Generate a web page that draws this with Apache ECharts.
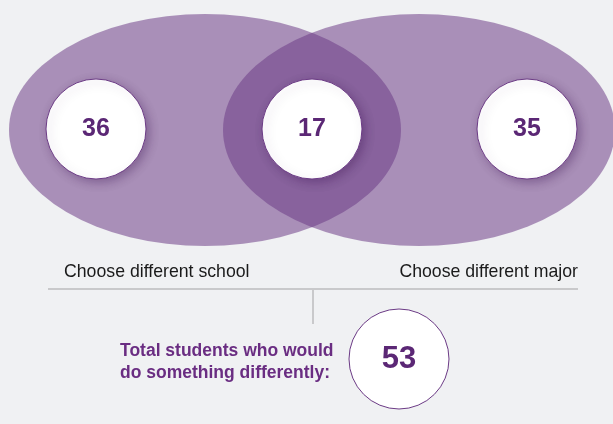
<!DOCTYPE html>
<html lang="en">

<head>
    <title>Students who would do something differently</title>
    <meta charset="utf-8">
    <style>
        html, body {
            margin: 0;
            padding: 0;
            background-color: #f0f1f3;
        }
    </style>
</head>

<body>
    <div id="chart" style="width: 613px; height: 424px"></div>
    <script src="https://cdn.jsdelivr.net/npm/echarts@6/dist/echarts.min.js"></script>
    <script>
        // data
        var setNames = ["Choose different school", "Choose different major"];
        var onlyCounts = [36, 35];
        var bothCount = 17;
        var totalCount = 53;
        var totalLabel = "Total students who would\ndo something differently:";

        // layout (pixel units on hidden axes)
        var W = 613, H = 424;
        var setCenters = [[205, 130], [419, 130]];
        var countSpots = [[96, 129], [312, 129], [527, 129]];
        var totalSpot = [399, 359];
        var purple = "#5b2775";
        var font = "Liberation Sans";

        var chart = echarts.init(document.getElementById("chart"));

        var countData = [
            { value: countSpots[0], label: { formatter: String(onlyCounts[0]) } },
            { value: countSpots[1], label: { formatter: String(bothCount) } },
            { value: countSpots[2], label: { formatter: String(onlyCounts[1]) } }
        ];

        chart.setOption({
            backgroundColor: "#f0f1f3",
            animation: false,
            grid: { left: 0, right: 0, top: 0, bottom: 0 },
            xAxis: { type: "value", min: 0, max: W, show: false },
            yAxis: { type: "value", min: 0, max: H, inverse: true, show: false },
            series: [
                {
                    // the two sets
                    type: "scatter",
                    symbol: "circle",
                    symbolSize: [392, 232],
                    z: 1,
                    itemStyle: { color: "rgba(107,58,133,0.535)", opacity: 1 },
                    data: setCenters
                },
                {
                    // count bubbles
                    type: "scatter",
                    symbol: "circle",
                    symbolSize: 100,
                    z: 3,
                    itemStyle: {
                        color: "#ffffff",
                        opacity: 1,
                        borderColor: "#6b3a85",
                        borderWidth: 1,
                        shadowBlur: 10,
                        shadowOffsetX: 3,
                        shadowOffsetY: 3,
                        shadowColor: "rgba(60,20,80,0.35)"
                    },
                    label: {
                        show: true,
                        position: "inside",
                        color: purple,
                        fontFamily: font,
                        fontWeight: "bold",
                        fontSize: 25
                    },
                    data: countData
                },
                {
                    // set names under the diagram
                    type: "scatter",
                    symbolSize: 0,
                    z: 3,
                    itemStyle: { opacity: 1 },
                    label: {
                        show: true,
                        position: "inside",
                        color: "#1a1a1a",
                        fontFamily: font,
                        fontSize: 17.7
                    },
                    data: [
                        { value: [64, 272], label: { formatter: setNames[0], align: "left" } },
                        { value: [578, 272], label: { formatter: setNames[1], align: "right" } }
                    ]
                },
                {
                    // bracket lines
                    type: "lines",
                    coordinateSystem: "cartesian2d",
                    z: 2,
                    lineStyle: { color: "#c9c9cb", width: 2, opacity: 1 },
                    data: [
                        { coords: [[48, 289], [578, 289]] },
                        { coords: [[313, 289], [313, 324]] }
                    ]
                },
                {
                    // total bubble
                    type: "scatter",
                    symbol: "circle",
                    symbolSize: 100,
                    z: 3,
                    itemStyle: {
                        color: "#ffffff",
                        opacity: 1,
                        borderColor: "#6b3a85",
                        borderWidth: 1
                    },
                    label: {
                        show: true,
                        position: "inside",
                        color: purple,
                        fontFamily: font,
                        fontWeight: "bold",
                        fontSize: 31,
                        formatter: String(totalCount)
                    },
                    data: [totalSpot]
                },
                {
                    // total caption
                    type: "scatter",
                    symbolSize: 0,
                    z: 3,
                    itemStyle: { opacity: 1 },
                    label: {
                        show: true,
                        position: "inside",
                        align: "left",
                        color: "#6a2d82",
                        fontFamily: font,
                        fontWeight: "bold",
                        fontSize: 17.5,
                        lineHeight: 22,
                        formatter: totalLabel
                    },
                    data: [[120, 362]]
                }
            ]
        });
    </script>
</body>

</html>
